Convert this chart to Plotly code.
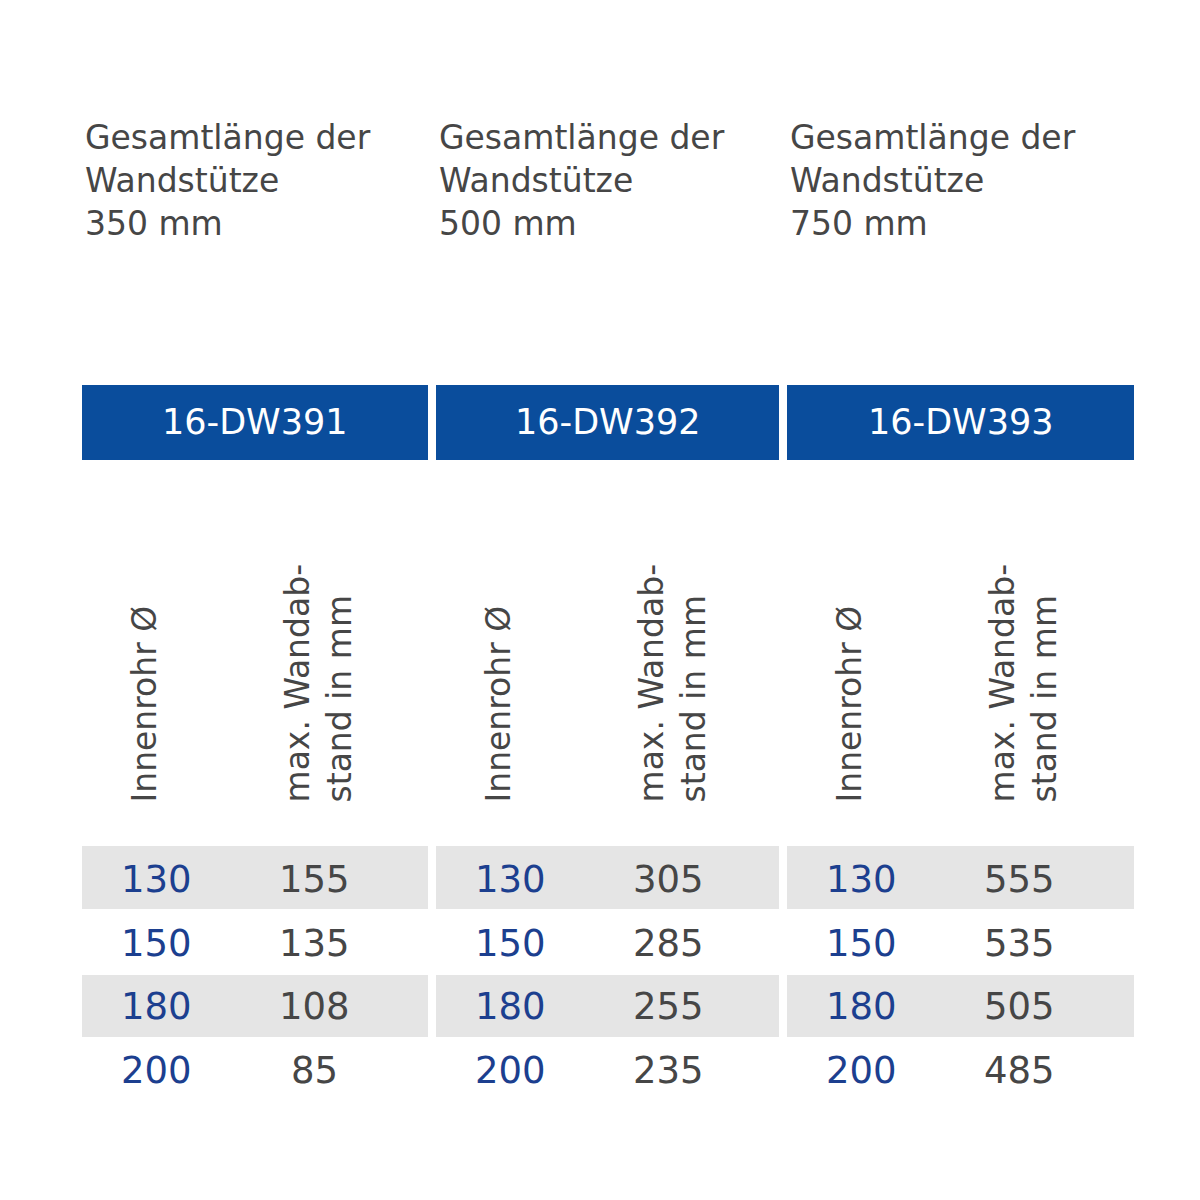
import plotly.graph_objects as go

lengths = ["350 mm", "500 mm", "750 mm"]
codes = ["16-DW391", "16-DW392", "16-DW393"]
inner = [130, 150, 180, 200]
dist = [[155, 135, 108, 85], [305, 285, 255, 235], [555, 535, 505, 485]]
col_head1 = "Innenrohr Ø"
col_head2 = "max. Wandab-<br>stand in mm"

FONT = "DejaVu Sans"
GRAY = "#464646"
BLUE = "#0a4d9c"
NUMBLUE = "#1c3f8f"

fig = go.Figure()
shapes, ann = [], []
blocks = [(74, 420), (428, 771), (779, 1126)]
row_y = [871, 935, 998, 1062]
for b, (x0, x1) in enumerate(blocks):
    ann.append(dict(x=x0 + 1, y=172, xanchor="left", yanchor="middle",
                    text=f"Gesamtlänge der<br>Wandstütze<br>{lengths[b]}", align="left",
                    font=dict(family=FONT, size=33, color=GRAY), showarrow=False))
    shapes.append(dict(type="rect", x0=x0, x1=x1, y0=377, y1=452, fillcolor=BLUE, line_width=0, layer="below"))
    ann.append(dict(x=(x0 + x1) / 2, y=414, text=codes[b], showarrow=False,
                    font=dict(family=FONT, size=35, color="white")))
    for yy0, yy1 in [(838, 901), (967, 1029)]:
        shapes.append(dict(type="rect", x0=x0, x1=x1, y0=yy0, y1=yy1, fillcolor="#e5e5e5", line_width=0, layer="below"))
    cx1 = x0 + 74
    cx2 = x0 + 232
    ann.append(dict(x=cx1 - 12, y=797, yanchor="bottom", textangle=-90, text=col_head1, showarrow=False,
                    font=dict(family=FONT, size=33, color=GRAY)))
    ann.append(dict(x=cx2 + 4, y=797, yanchor="bottom", textangle=-90, text=col_head2, showarrow=False,
                    align="left", font=dict(family=FONT, size=33, color=GRAY)))
    for i, y in enumerate(row_y):
        ann.append(dict(x=cx1, y=y, text=str(inner[i]), showarrow=False,
                        font=dict(family=FONT, size=37, color=NUMBLUE)))
        ann.append(dict(x=cx2, y=y, text=str(dist[b][i]), showarrow=False,
                        font=dict(family=FONT, size=37, color=GRAY)))

fig.update_layout(width=1200, height=1200, margin=dict(l=0, r=0, t=0, b=0),
                  paper_bgcolor="white", plot_bgcolor="white", shapes=shapes, annotations=ann,
                  xaxis=dict(range=[0, 1200], visible=False, fixedrange=True),
                  yaxis=dict(range=[1200, 0], visible=False, fixedrange=True), showlegend=False)
fig.write_html("out.html")
